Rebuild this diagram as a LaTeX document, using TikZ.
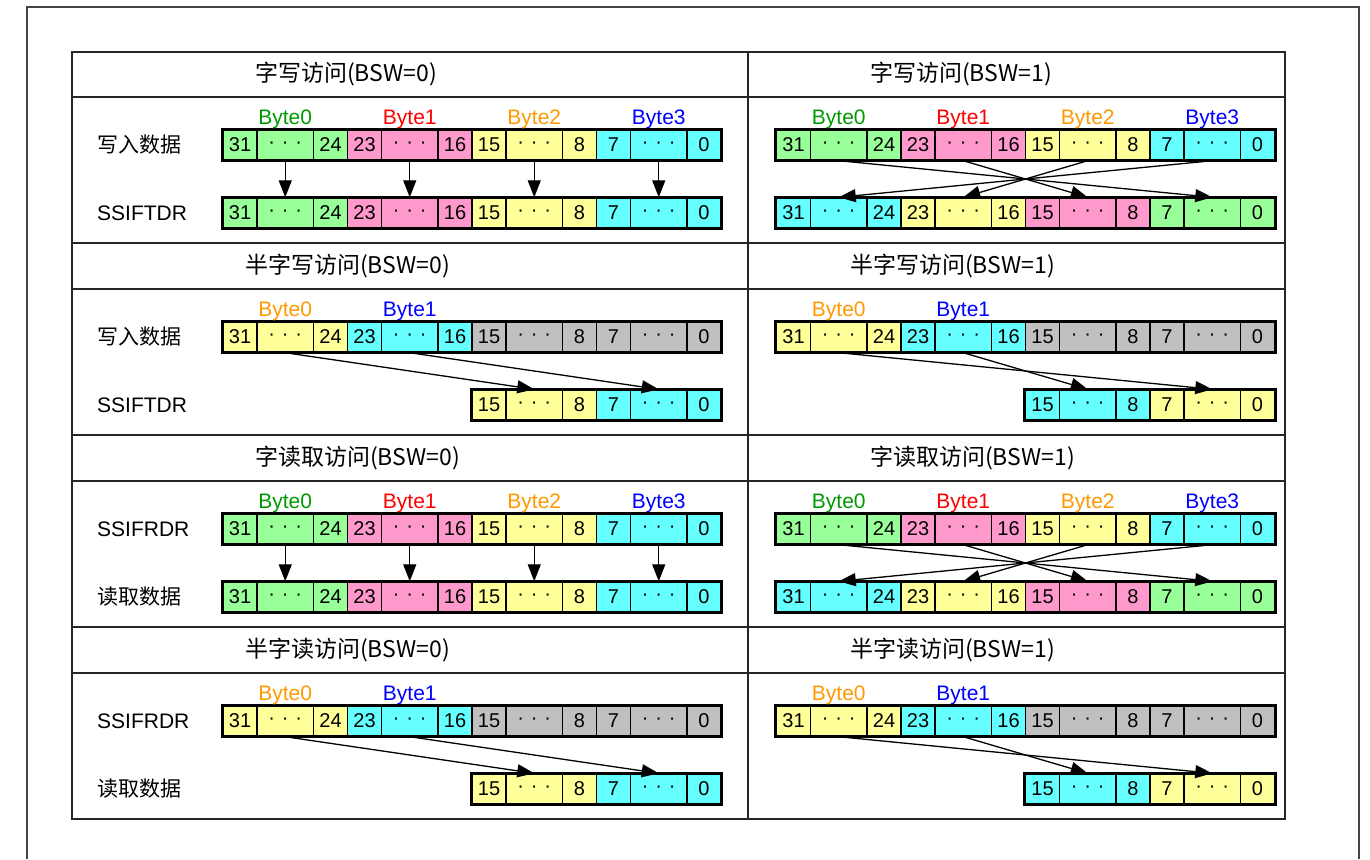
\documentclass[tikz,border=0pt]{standalone}
\usepackage{fontspec}
\setmainfont{Liberation Sans}
\newfontfamily\cjk{Noto Sans CJK SC}
\usetikzlibrary{arrows.meta, positioning, calc}
\definecolor{cellgreen}{HTML}{99FF99}
\definecolor{cellpink}{HTML}{FF99CC}
\definecolor{cellyellow}{HTML}{FFFF99}
\definecolor{cellcyan}{HTML}{66FFFF}
\definecolor{cellgray}{HTML}{C0C0C0}
\definecolor{bytegreen}{HTML}{009900}
\definecolor{bytered}{HTML}{FF0000}
\definecolor{byteorange}{HTML}{FF9900}
\definecolor{byteblue}{HTML}{0000FF}
\definecolor{framegray}{HTML}{444444}

\newcommand{\tdots}{·\hspace{0.34em}·\hspace{0.34em}·}

% one register: name, left x, centre y, first byte, byte/colour list
\newcommand{\bitreg}[5]{%
  \foreach \bi/\col in {#5} {
    \pgfmathtruncatemacro{\hi}{31-8*\bi}
    \pgfmathtruncatemacro{\lo}{24-8*\bi}
    \node[bitcell, fill=\col, minimum width=34pt]   (#1-\bi-h) at (#2+124.5*\bi+17, #3)    {\hi};
    \node[bitcell, fill=\col, minimum width=56.5pt] (#1-\bi-d) at (#2+124.5*\bi+62.25, #3) {\tdots};
    \node[bitcell, fill=\col, minimum width=34pt]   (#1-\bi-l) at (#2+124.5*\bi+107.5, #3) {\lo};
  }
  \draw[regframe] (#1-#4-h.north west) rectangle (#1-3-l.south east);
}

\begin{document}
\begin{tikzpicture}[x=1pt, y=-1pt,
  bitcell/.style={draw, line width=1.4pt, minimum height=30pt, inner sep=0pt,
                  font=\fontsize{20}{20}\selectfont},
  regframe/.style={line width=3pt},
  tableline/.style={line width=1.4pt, black!85},
  title/.style={anchor=west, inner sep=0pt, font=\cjk\fontsize{23}{26}\selectfont},
  rowlabel/.style={anchor=west, inner sep=0pt, font=\fontsize{21}{24}\selectfont},
  bytelabel/.style={anchor=south, inner sep=0.5pt, font=\fontsize{21}{24}\selectfont},
  arr/.style={-{Triangle[length=17pt, width=13pt]}, line width=1.3pt}
]
\useasboundingbox (0,0) rectangle (1370,859);

% page frame and table
\draw[framegray, line width=1.3pt] (27,859) -- (27,7) -- (1359,7) -- (1359,859);
\draw[tableline] (72,52) rectangle (1285,819);
\draw[tableline] (748,52) -- (748,819);
\foreach \yy in {97,243,289,435,481,627,673}
  \draw[tableline] (72,\yy) -- (1285,\yy);

% titles
\node[title] (t-wrL) at (255,74.5) {字写访问(BSW=0)};
\node[title] (t-wrR) at (870,74.5) {字写访问(BSW=1)};
\node[title] (t-hwL) at (245,266)  {半字写访问(BSW=0)};
\node[title] (t-hwR) at (850,266)  {半字写访问(BSW=1)};
\node[title] (t-rdL) at (255,458)  {字读取访问(BSW=0)};
\node[title] (t-rdR) at (870,458)  {字读取访问(BSW=1)};
\node[title] (t-hrL) at (245,650)  {半字读访问(BSW=0)};
\node[title] (t-hrR) at (850,650)  {半字读访问(BSW=1)};

% row labels
\node[rowlabel] (l-wr1) at (97,145) {\cjk 写入数据};
\node[rowlabel] (l-wr2) at (97,213) {SSIFTDR};
\node[rowlabel] (l-hw1) at (97,337) {\cjk 写入数据};
\node[rowlabel] (l-hw2) at (97,405) {SSIFTDR};
\node[rowlabel] (l-rd1) at (97,529) {SSIFRDR};
\node[rowlabel] (l-rd2) at (97,597) {\cjk 读取数据};
\node[rowlabel] (l-hr1) at (97,721) {SSIFRDR};
\node[rowlabel] (l-hr2) at (97,789) {\cjk 读取数据};

% word access
\foreach \p/\y in {wr/97, rd/481} {
  \bitreg{\p L-a}{223}{\y+48}{0}{0/cellgreen,1/cellpink,2/cellyellow,3/cellcyan}
  \bitreg{\p L-b}{223}{\y+116}{0}{0/cellgreen,1/cellpink,2/cellyellow,3/cellcyan}
  \bitreg{\p R-a}{776.5}{\y+48}{0}{0/cellgreen,1/cellpink,2/cellyellow,3/cellcyan}
  \bitreg{\p R-b}{776.5}{\y+116}{0}{0/cellcyan,1/cellyellow,2/cellpink,3/cellgreen}
  \foreach \s in {L,R}
    \foreach \bi/\col in {0/bytegreen,1/bytered,2/byteorange,3/byteblue}
      \node[bytelabel, text=\col] (\p\s-n\bi) at (\p\s-a-\bi-d.north) {Byte\bi};
  \foreach \bi in {0,...,3}
    \draw[arr] (\p L-a-\bi-d.south) -- (\p L-b-\bi-d.north);
  \foreach \bi/\to in {0/3,1/2,2/1,3/0}
    \draw[arr] (\p R-a-\bi-d.south) -- (\p R-b-\to-d.north);
}

% half-word access
\foreach \p/\y in {hw/289, hr/673} {
  \bitreg{\p L-a}{223}{\y+48}{0}{0/cellyellow,1/cellcyan,2/cellgray,3/cellgray}
  \bitreg{\p L-b}{223}{\y+116}{2}{2/cellyellow,3/cellcyan}
  \bitreg{\p R-a}{776.5}{\y+48}{0}{0/cellyellow,1/cellcyan,2/cellgray,3/cellgray}
  \bitreg{\p R-b}{776.5}{\y+116}{2}{2/cellcyan,3/cellyellow}
  \foreach \s in {L,R}
    \foreach \bi/\col in {0/byteorange,1/byteblue}
      \node[bytelabel, text=\col] (\p\s-n\bi) at (\p\s-a-\bi-d.north) {Byte\bi};
  \foreach \bi/\to in {0/2,1/3}
    \draw[arr] (\p L-a-\bi-d.south) -- (\p L-b-\to-d.north);
  \foreach \bi/\to in {0/3,1/2}
    \draw[arr] (\p R-a-\bi-d.south) -- (\p R-b-\to-d.north);
}
\end{tikzpicture}
\end{document}
